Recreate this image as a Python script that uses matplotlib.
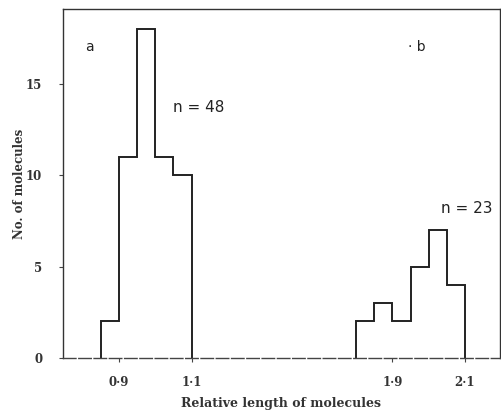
import matplotlib.pyplot as plt
import numpy as np

# ---- data ----
edges_a = [0.85, 0.90, 0.95, 1.00, 1.05, 1.10]
counts_a = [2, 11, 18, 11, 10]
edges_b = [1.80, 1.85, 1.90, 1.95, 2.00, 2.05, 2.10]
counts_b = [2, 3, 2, 5, 7, 4]
tick_vals = [0.9, 1.1, 1.9, 2.1]
tick_labels = ['0·9', '1·1', '1·9', '2·1']
yticks = [0, 5, 10, 15]

# the x axis is broken between 1.1 and 1.9, so panel b is shifted left
B_SHIFT = 0.245

def to_plot(x):
    x = np.asarray(x, dtype=float)
    return np.where(x > 1.5, x - B_SHIFT, x)

fig = plt.figure(figsize=(5.02, 4.11), dpi=100)
ax = fig.add_axes([0.1255, 0.129, 0.8705, 0.849])

ax.stairs(counts_a, to_plot(edges_a), color='#222222', lw=1.4)
ax.stairs(counts_b, to_plot(edges_b), color='#222222', lw=1.4)

ax.set_xlim(0.745, 1.952)
ax.set_ylim(0, 19.1)

for s in ['left', 'top', 'right']:
    ax.spines[s].set_color('#333333')
    ax.spines[s].set_linewidth(1.0)
ax.spines['bottom'].set_color('#444444')
ax.spines['bottom'].set_linewidth(1.0)
ax.spines['bottom'].set_linestyle((0, (9, 2)))

ax.set_xticks(to_plot(tick_vals))
ax.set_xticklabels(tick_labels)
ax.set_yticks(yticks)
ax.tick_params(axis='both', direction='out', length=3, width=0.8,
               color='#444444', labelsize=8.5, pad=10)
ax.tick_params(axis='y', pad=12)
for lab in ax.get_xticklabels() + ax.get_yticklabels():
    lab.set_family('DejaVu Serif')
    lab.set_fontweight('bold')
    lab.set_color('#333333')

ax.set_xlabel('Relative length of molecules', family='DejaVu Serif',
              fontweight='bold', fontsize=9, color='#333333', labelpad=6)
ax.set_ylabel('No. of molecules', family='DejaVu Serif',
              fontweight='bold', fontsize=8.5, color='#333333', labelpad=0)

ax.text(0.05, 0.89, 'a', transform=ax.transAxes, fontsize=10,
        family='DejaVu Sans', color='#222222', va='center', ha='left')
ax.text(0.79, 0.89, '· b', transform=ax.transAxes, fontsize=10,
        family='DejaVu Sans', color='#222222', va='center', ha='left')
ax.text(1.05, 13.7, 'n = 48', fontsize=11, family='DejaVu Sans',
        color='#222222', va='center', ha='left')
ax.text(1.79, 8.2, 'n = 23', fontsize=11, family='DejaVu Sans',
        color='#222222', va='center', ha='left')

fig.savefig('out.png', dpi=100)
